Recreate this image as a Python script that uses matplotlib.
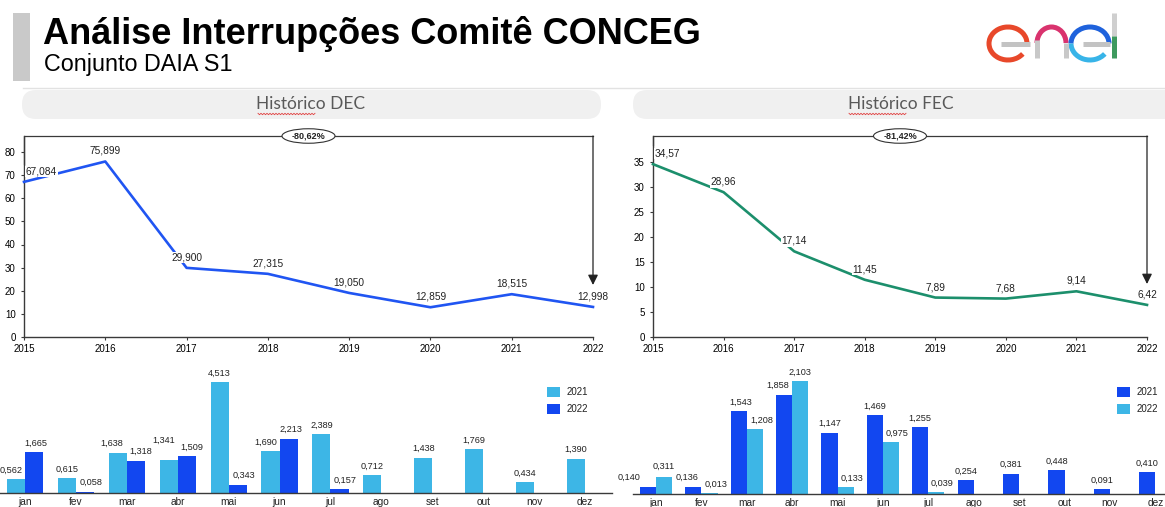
import numpy as np
import matplotlib
matplotlib.use("Agg")
import matplotlib.pyplot as plt
from matplotlib.patches import FancyBboxPatch, Rectangle, Arc, Ellipse
from matplotlib import transforms

# ---------------- data ----------------
years = [2015, 2016, 2017, 2018, 2019, 2020, 2021, 2022]
dec_values = [67.084, 75.899, 29.900, 27.315, 19.050, 12.859, 18.515, 12.998]
fec_values = [34.57, 28.96, 17.14, 11.45, 7.89, 7.68, 9.14, 6.42]
dec_variation = "-80,62%"
fec_variation = "-81,42%"

months = ["jan", "fev", "mar", "abr", "mai", "jun", "jul", "ago", "set", "out", "nov", "dez"]
series_names = ["2021", "2022"]
dec_2021 = [0.562, 0.615, 1.638, 1.341, 4.513, 1.690, 2.389, 0.712, 1.438, 1.769, 0.434, 1.390]
dec_2022 = [1.665, 0.058, 1.318, 1.509, 0.343, 2.213, 0.157]
fec_2021 = [0.140, 0.136, 1.543, 1.858, 1.147, 1.469, 1.255, 0.254, 0.381, 0.448, 0.091, 0.410]
fec_2022 = [0.311, 0.013, 1.208, 2.103, 0.133, 0.975, 0.039]

title = "Análise Interrupções Comitê CONCEG"
subtitle = "Conjunto DAIA S1"
dec_header = "Histórico DEC"
fec_header = "Histórico FEC"

# label nudges (pixels) to mimic the reference label placement
dec_dx_2021 = [-5, 0, -6, -5, 0, -5, 0, 0, 0, 0, 0, 0]
dec_dx_2022 = [2, 6, 5, 5, 6, 2, 6]
dec_dy_2021 = [0, 0, 0, 11, 0, 0, 0, 0, 0, 0, 0, 0]
fec_dx_2021 = [-19, -6, 2, -6, 0, 0, 0, 0, 0, 0, 0, 0]
fec_dx_2022 = [0, 7, 7, 0, 6, 6, 6]
fec_dy_2022 = [2, 0, 0, 0, 0, 0, 0]

# ---------------- style ----------------
W, H = 1165, 507
LIGHT = "#3db6e6"
DARK = "#1247f0"
DEC_LINE = "#2055f2"
FEC_LINE = "#1c8f6c"
AXC = "#3a3a3a"
plt.rcParams["font.family"] = ["Liberation Sans", "DejaVu Sans"]

fig = plt.figure(figsize=(W / 100, H / 100), dpi=100)
fig.patch.set_facecolor("white")


def rect_px(x0, y0, x1, y1):
    return [x0 / W, 1 - y1 / H, (x1 - x0) / W, (y1 - y0) / H]


def Y(y):
    return H - y


overlay = fig.add_axes([0, 0, 1, 1], zorder=0)
overlay.set_xlim(0, W)
overlay.set_ylim(0, H)
overlay.axis("off")
overlay.set_facecolor("none")

# header block
overlay.add_patch(Rectangle((13, Y(81)), 17, 68, fc="#c9c9c9", ec="none"))
overlay.text(43, Y(44), title, fontsize=26, fontweight="bold",
             va="baseline", ha="left", color="black")
overlay.text(44, Y(71), subtitle, fontsize=16.8,
             va="baseline", ha="left", color="black")
overlay.plot([23, W], [Y(87.5), Y(87.5)], color="#e2e2e2", lw=1)

# enel logo
lw_logo = 3.6
overlay.add_patch(Arc((1008, Y(43.5)), 38, 33, theta1=0, theta2=325, color="#e8482a", lw=lw_logo))
overlay.plot([1001, 1030], [Y(43.5), Y(43.5)], color="#c3c3c3", lw=lw_logo, solid_capstyle="butt")
overlay.plot([1037, 1037], [Y(58), Y(40)], color="#c8c8c8", lw=lw_logo, solid_capstyle="butt")
overlay.add_patch(Arc((1051.5, Y(43)), 29, 32, theta1=0, theta2=180, color="#d9336e", lw=lw_logo))
overlay.plot([1066, 1066], [Y(43), Y(58)], color="#c8c8c8", lw=lw_logo, solid_capstyle="butt")
overlay.add_patch(Arc((1090, Y(43.5)), 38, 33, theta1=0, theta2=180, color="#1f62dc", lw=lw_logo))
overlay.add_patch(Arc((1090, Y(43.5)), 38, 33, theta1=180, theta2=325, color="#38b4e8", lw=lw_logo))
overlay.plot([1083, 1110], [Y(43.5), Y(43.5)], color="#c3c3c3", lw=lw_logo, solid_capstyle="butt")
overlay.plot([1114, 1114], [Y(13), Y(36)], color="#cfcfcf", lw=lw_logo, solid_capstyle="butt")
overlay.plot([1114, 1114], [Y(36), Y(58)], color="#3e9a5e", lw=lw_logo, solid_capstyle="butt")

# section pills


def pill(x0, x1, text, cx, ux0, ux1):
    overlay.add_patch(FancyBboxPatch((x0, Y(119)), x1 - x0, 29,
                                     boxstyle="round,pad=0,rounding_size=14",
                                     fc="#f0f0f0", ec="none"))
    overlay.text(cx, Y(104), text, fontsize=12.5, family=["Lato", "DejaVu Sans"],
                 color="#595959", ha="center", va="center")
    xs = np.arange(ux0, ux1, 1.5)
    ys = np.where(np.arange(len(xs)) % 2 == 0, Y(113.3), Y(114.7))
    overlay.plot(xs, ys, color="#e04040", lw=0.6)


pill(22, 601, dec_header, 311, 258, 316)
pill(633, 1190, fec_header, 901, 849, 907)

# ---------------- line charts ----------------


def fmt(v, nd):
    return f"{v:.{nd}f}".replace(".", ",")


def line_chart(rect, values, color, nd, yticks, ytop, bracket_left, arrow_end, variation):
    ax = fig.add_axes(rect, zorder=2)
    ax.set_facecolor("none")
    ax.set_xlim(years[0], years[-1])
    ax.set_ylim(0, ytop)
    for s in ["top", "right"]:
        ax.spines[s].set_visible(False)
    for s in ["left", "bottom"]:
        ax.spines[s].set_color(AXC)
        ax.spines[s].set_linewidth(1)
    ax.set_yticks(yticks)
    ax.set_xticks(years)
    ax.tick_params(axis="y", labelsize=7, length=2, pad=4, color=AXC)
    ax.tick_params(axis="x", labelsize=7, length=2.5, pad=2.5, color=AXC)
    ax.plot(years, values, color=color, lw=1.9, clip_on=False, zorder=3)
    for i, (x, v) in enumerate(zip(years, values)):
        ha = "left" if i == 0 else "center"
        dx = 2 if i == 0 else 0
        ax.annotate(fmt(v, nd), (x, v), xytext=(dx * 0.72, 10.5 * 0.72),
                    textcoords="offset points", ha=ha, va="center", fontsize=7.3,
                    color="#222", zorder=5, annotation_clip=False,
                    bbox=dict(boxstyle="square,pad=0.08", fc="white", ec="none"))
    x0, x1 = years[0], years[-1]
    ax.plot([x0, x0, x1], [bracket_left, ytop, ytop], color=AXC, lw=0.9,
            clip_on=False, zorder=4)
    ax.annotate("", xy=(x1, arrow_end), xytext=(x1, ytop),
                arrowprops=dict(arrowstyle="-|>,head_length=0.6,head_width=0.3",
                                color="#222", lw=0.9, shrinkA=0, shrinkB=0),
                annotation_clip=False, zorder=4)
    xm = (x0 + x1) / 2
    tr = fig.dpi_scale_trans + transforms.ScaledTranslation(xm, ytop, ax.transData)
    ell = Ellipse((0, 0), 0.53, 0.145, transform=tr, fc="white", ec="#333333",
                  lw=0.8, zorder=6, clip_on=False)
    ax.add_artist(ell)
    ax.text(xm, ytop, variation, ha="center", va="center", fontsize=6.5,
            fontweight="bold", color="#222", zorder=7, clip_on=False)
    return ax


line_chart(rect_px(24, 136, 593, 337), dec_values, DEC_LINE, 3,
           list(range(0, 81, 10)), 201 / 2.3125, 75, 22.5, dec_variation)
line_chart(rect_px(653, 136, 1147, 337), fec_values, FEC_LINE, 2,
           list(range(0, 36, 5)), 201 / 5.0, 38.4, 10.6, fec_variation)

# ---------------- bar charts ----------------


def bar_chart(rect, xlim, ytop, s1, s2, c1, c2, dx1, dx2, dy1, dy2, leg_x):
    ax = fig.add_axes(rect, zorder=2)
    ax.set_facecolor("none")
    x = np.arange(len(months))
    w = 0.355
    ax.bar(x[:len(s1)] - w / 2, s1, w, color=c1, zorder=2)
    ax.bar(x[:len(s2)] + w / 2, s2, w, color=c2, zorder=2)
    for vals, off, dxs, dys in [(s1, -w / 2, dx1, dy1), (s2, w / 2, dx2, dy2)]:
        for i, v in enumerate(vals):
            ax.annotate(fmt(v, 3), (x[i] + off, v),
                        xytext=(dxs[i] * 0.72, (9 + dys[i]) * 0.72),
                        textcoords="offset points", ha="center", va="center",
                        fontsize=6.6, color="#222", annotation_clip=False, zorder=5)
    ax.set_xlim(*xlim)
    ax.set_ylim(0, ytop)
    for s in ["top", "right", "left"]:
        ax.spines[s].set_visible(False)
    ax.spines["bottom"].set_color(AXC)
    ax.spines["bottom"].set_linewidth(1)
    ax.set_yticks([])
    ax.set_xticks(x, months)
    ax.tick_params(axis="x", length=0, pad=3, labelsize=7.3, colors="#222")
    # legend
    for k, (name, col) in enumerate(zip(series_names, [c1, c2])):
        ytop_px = 387 + 17 * k
        overlay.add_patch(Rectangle((leg_x, Y(ytop_px + 10)), 13, 10, fc=col, ec="none"))
        overlay.text(leg_x + 20, Y(ytop_px + 5), name, fontsize=7, va="center",
                     ha="left", color="#222")
    return ax


bar_chart(rect_px(0, 365, 612, 493), (-0.49, 11.53), 128 / 24.6,
          dec_2021, dec_2022, LIGHT, DARK,
          dec_dx_2021, dec_dx_2022, dec_dy_2021, [0] * 12, 547)
bar_chart(rect_px(633, 365, 1178, 494), (-0.507, 11.5), 129 / 53.5,
          fec_2021, fec_2022, DARK, LIGHT,
          fec_dx_2021, fec_dx_2022, [0] * 12, fec_dy_2022, 1117)

fig.savefig("out.png", dpi=100, facecolor="white")
